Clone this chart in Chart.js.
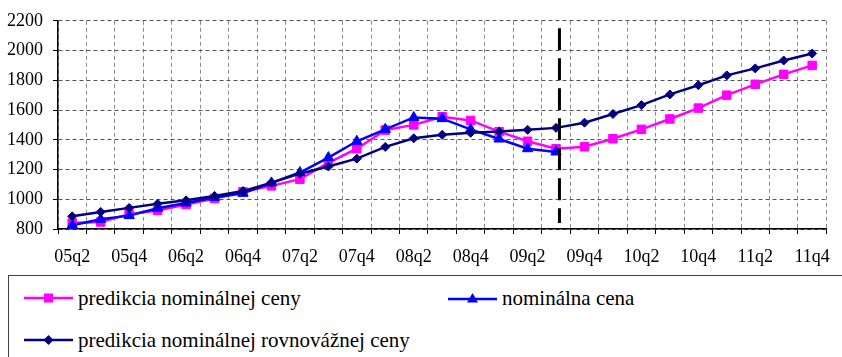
<!DOCTYPE html>
<html>
<head>
<meta charset="utf-8">
<script src="https://cdn.jsdelivr.net/npm/chart.js@4.4.1/dist/chart.umd.min.js"></script>
<style>
html,body{margin:0;padding:0;background:#fff;}
#wrap{position:relative;width:842px;height:357px;overflow:hidden;background:#fff;}
#c{position:absolute;left:0;top:0;}
#legend{position:absolute;left:8px;top:275px;width:900px;height:120px;border:1px solid #404040;background:#fff;font-family:'Liberation Serif';font-size:21px;color:#000;}
.item{position:absolute;height:24px;line-height:24px;white-space:nowrap;font-family:'Liberation Serif';}
.item svg{vertical-align:middle;margin-right:5px;position:relative;top:-2px;}
</style>
</head>
<body>
<div id="wrap">
<canvas id="c" width="842" height="357"></canvas>
<div id="legend">
  <div class="item" style="left:15px;top:10px;"><svg width="49" height="16"><line x1="0" y1="8" x2="49" y2="8" stroke="#FF00FF" stroke-width="2.5"/><rect x="20" y="3.5" width="9" height="9" fill="#FF00FF"/></svg>predikcia nominálnej ceny</div>
  <div class="item" style="left:439px;top:10px;"><svg width="49" height="16"><line x1="0" y1="9" x2="49" y2="9" stroke="#0000FF" stroke-width="2.5"/><polygon points="24.5,3 30,12.5 19,12.5" fill="#0000FF"/></svg>nominálna cena</div>
  <div class="item" style="left:15px;top:52px;"><svg width="49" height="16"><line x1="0" y1="8" x2="49" y2="8" stroke="#000080" stroke-width="2.5"/><polygon points="24.5,3 29.5,8 24.5,13 19.5,8" fill="#000080"/></svg>predikcia nominálnej rovnovážnej ceny</div>
</div>
</div>
<script>
const quarters = ['05q2','05q3','05q4','06q1','06q2','06q3','06q4','07q1','07q2','07q3','07q4','08q1','08q2','08q3','08q4','09q1','09q2','09q3','09q4','10q1','10q2','10q3','10q4','11q1','11q2','11q3','11q4'];
const predNominal = [840,847,900,925,965,1005,1050,1090,1135,1245,1340,1465,1500,1555,1530,1455,1390,1340,1353,1407,1470,1540,1613,1700,1773,1840,1900];
const nominal = [825,865,890,940,975,1012,1040,1110,1180,1280,1390,1470,1550,1542,1470,1405,1340,1318,null,null,null,null,null,null,null,null,null];
const predEquilibrium = [885,915,942,970,993,1022,1055,1112,1172,1220,1273,1352,1410,1433,1447,1455,1467,1480,1515,1573,1633,1705,1767,1833,1880,1933,1980];
const yMin = 800, yMax = 2200, yStep = 200;
const forecastStart = 17.12;      // category position of the dashed separator
const separatorRange = [840, 2150];

const FONT = "'Liberation Serif'";

const separatorPlugin = {
  id: 'separator',
  afterDatasetsDraw(chart) {
    const x = chart.scales.x, y = chart.scales.y;
    const i0 = Math.floor(forecastStart);
    const p0 = x.getPixelForValue(i0), p1 = x.getPixelForValue(i0 + 1);
    const px = p0 + (forecastStart - i0) * (p1 - p0);
    const ctx = chart.ctx;
    ctx.save();
    ctx.strokeStyle = '#000';
    ctx.lineWidth = 3;
    ctx.setLineDash([22, 8]);
    ctx.beginPath();
    ctx.moveTo(px, y.getPixelForValue(separatorRange[1]));
    ctx.lineTo(px, y.getPixelForValue(separatorRange[0]));
    ctx.stroke();
    ctx.restore();
  }
};

new Chart(document.getElementById('c'), {
  type: 'line',
  data: {
    labels: quarters,
    datasets: [
      { label: 'predikcia nominálnej rovnovážnej ceny', data: predEquilibrium, borderColor: '#000080', backgroundColor: '#000080', borderWidth: 2.5, pointStyle: 'rectRot', pointRadius: 4.5, pointBorderWidth: 1, tension: 0, order: 0 },
      { label: 'nominálna cena', data: nominal, borderColor: '#0000FF', backgroundColor: '#0000FF', borderWidth: 2.5, pointStyle: 'triangle', pointRadius: 6, pointBorderWidth: 1, tension: 0, order: 1 },
      { label: 'predikcia nominálnej ceny', data: predNominal, borderColor: '#FF00FF', backgroundColor: '#FF00FF', borderWidth: 2.5, pointStyle: 'rect', pointRadius: 6, pointBorderWidth: 1, tension: 0, order: 2 }
    ]
  },
  options: {
    responsive: false, animation: false,
    layout: { padding: { left: 0, right: 9, top: 19, bottom: 0 } },
    plugins: { legend: { display: false }, tooltip: { enabled: false } },
    scales: {
      x: {
        offset: true,
        grid: { offset: true, color: '#8a8a8a', lineWidth: 1, tickLength: 5, tickColor: '#000', tickWidth: 1 },
        border: { display: true, color: '#000', width: 1.5, dash: [4, 3] },
        ticks: { autoSkip: false, maxRotation: 0, color: '#000', padding: 12, font: { family: FONT, size: 18 }, callback: (v, i) => (i % 2 === 0 ? quarters[i] : '') },
        afterFit: s => { s.height = 128; }
      },
      y: {
        min: yMin, max: yMax,
        grid: { color: '#555', lineWidth: 1, tickLength: 5, tickColor: '#000', tickWidth: 1 },
        border: { display: true, color: '#000', width: 1.5, dash: [4, 3] },
        ticks: { stepSize: yStep, color: '#000', padding: 10, font: { family: FONT, size: 18 }, callback: v => String(v) },
        afterFit: s => { s.width = 58; }
      }
    }
  },
  plugins: [separatorPlugin]
});
</script>
</body>
</html>
